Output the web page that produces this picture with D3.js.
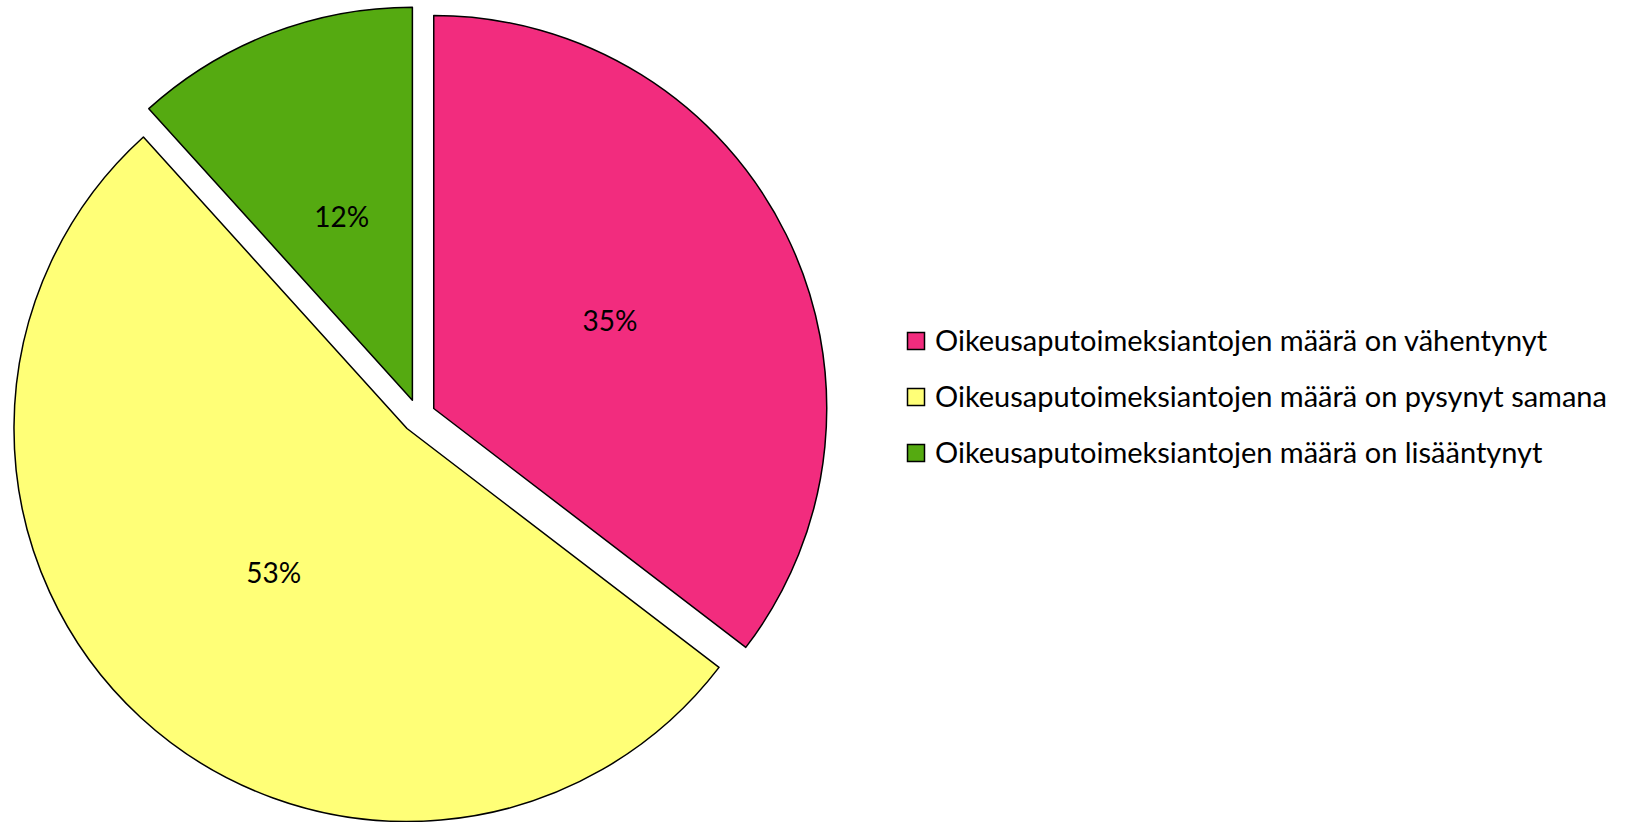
<!DOCTYPE html>
<html>
<head>
<meta charset="utf-8" />
<script src="https://d3js.org/d3.v7.min.js"></script>
<title>Pie Chart</title>
<style>
  body { margin: 0; background: #fff; }
  text { font-family: Lato, "Open Sans", sans-serif; }
</style>
</head>
<body>
<script type="text/javascript">

// data (labels are shown rounded)
var categories = [
  "Oikeusaputoimeksiantojen määrä on vähentynyt",
  "Oikeusaputoimeksiantojen määrä on pysynyt samana",
  "Oikeusaputoimeksiantojen määrä on lisääntynyt"
];
var shares = [35.4, 52.9, 11.7];
var colors = ["#F22C7E", "#FFFF77", "#55AA11"];

var width = 1643, height = 822;
var cx = 418.5, cy = 416, radius = 393, explode = 17;

var svg = d3.select("body").append("svg")
    .attr("width", width)
    .attr("height", height);

var data = categories.map(function(c, i) { return {name: c, value: shares[i], color: colors[i]}; });

var pie = d3.pie().sort(null).value(function(d) { return d.value; });
var arc = d3.arc().innerRadius(0).outerRadius(radius);

var slices = svg.append("g")
    .attr("transform", "translate(" + cx + "," + cy + ")")
  .selectAll("g")
    .data(pie(data))
    .enter().append("g")
    .attr("transform", function(d) {
      var a = (d.startAngle + d.endAngle) / 2;
      return "translate(" + (explode * Math.sin(a)) + "," + (-explode * Math.cos(a)) + ")";
    });

slices.append("path")
    .attr("d", arc)
    .style("fill", function(d) { return d.data.color; })
    .style("stroke", "#000")
    .style("stroke-width", 1.5)
    .style("stroke-linejoin", "round");

//percent labels
slices.append("text")
    .attr("transform", function(d) { return "translate(" + arc.centroid(d) + ")"; })
    .attr("text-anchor", "middle")
    .attr("dy", "0.35em")
    .style("font-size", "28px")
    .style("fill", "#000")
    .text(function(d) { return Math.round(d.data.value) + "%"; });

//legend
var legend = svg.append("g")
    .attr("transform", "translate(907,341)");

var rows = legend.selectAll("g")
    .data(data)
    .enter().append("g")
    .attr("transform", function(d, i) { return "translate(0," + (i * 56) + ")"; });

rows.append("rect")
    .attr("x", 0.5)
    .attr("y", -8.5)
    .attr("width", 17)
    .attr("height", 17)
    .style("fill", function(d) { return d.color; })
    .style("stroke", "#000")
    .style("stroke-width", 1.5);

rows.append("text")
    .attr("x", 28)
    .attr("dy", "0.35em")
    .style("font-size", "29px")
    .style("fill", "#000")
    .text(function(d) { return d.name; });

</script>
</body>
</html>
